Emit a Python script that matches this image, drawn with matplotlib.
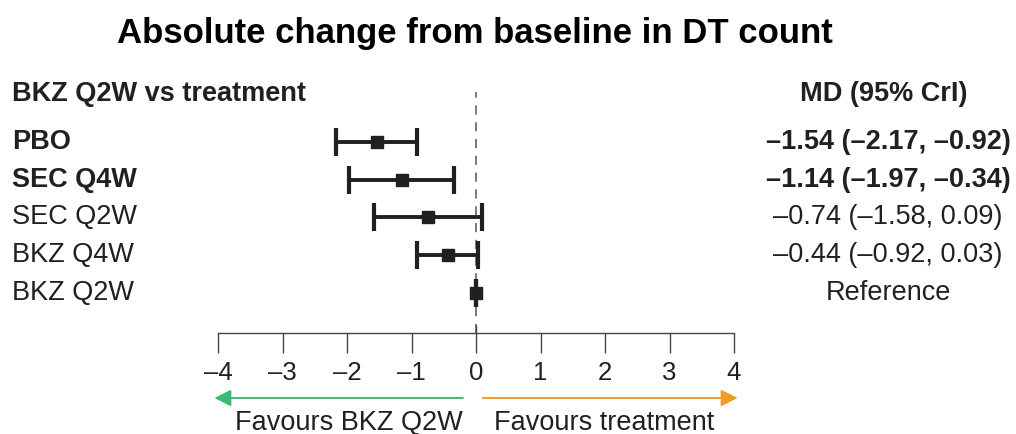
import matplotlib
matplotlib.use("Agg")
from matplotlib import pyplot as plt
from matplotlib import transforms
from matplotlib.ticker import FuncFormatter

plt.rcParams["font.family"] = ["Liberation Sans", "DejaVu Sans"]

# Data
treatments = ["PBO", "SEC Q4W", "SEC Q2W", "BKZ Q4W", "BKZ Q2W"]
md = [-1.54, -1.14, -0.74, -0.44, 0.0]
ci_low = [-2.17, -1.97, -1.58, -0.92, 0.0]
ci_high = [-0.92, -0.34, 0.09, 0.03, 0.0]
significant = [True, True, False, False, False]
md_text = ["\u20131.54 (\u20132.17, \u20130.92)", "\u20131.14 (\u20131.97, \u20130.34)",
           "\u20130.74 (\u20131.58, 0.09)", "\u20130.44 (\u20130.92, 0.03)", "Reference"]
x_ticks = [-4, -3, -2, -1, 0, 1, 2, 3, 4]

dark = "#231f20"
fs = 19.5
W, H = 1016, 434
fig = plt.figure(figsize=(W / 100, H / 100), dpi=100)

# axes: x from -4 (px 218) to 4 (px 734), bottom spine at px 333
ax = fig.add_axes([218 / W, (H - 333) / H, 516 / W, (333 - 90) / H])
ax.set_xlim(-4, 4)
ax.set_ylim(5.06, -1.377)

rows = list(range(len(treatments)))
xerr = [[m - l for m, l in zip(md, ci_low)], [h - m for m, h in zip(md, ci_high)]]
ax.errorbar(md, rows, xerr=xerr, fmt="s", color=dark, ms=8.5, lw=2.8,
            capsize=10, capthick=3.0, clip_on=False, zorder=3)

# dashed reference line and the longer zero tick
ax.axvline(0, ymin=0, ymax=0.99, color="#555555", lw=1.1, ls=(0, (6, 5)), zorder=1)
ax.plot([0, 0], [0, 0.03], transform=ax.get_xaxis_transform(), color="#444444", lw=1.0, clip_on=False)

for s in ["left", "right", "top"]:
    ax.spines[s].set_visible(False)
ax.spines["bottom"].set_color("#444444")
ax.spines["bottom"].set_linewidth(1.0)
ax.set_yticks([])
ax.set_xticks(x_ticks)
ax.xaxis.set_major_formatter(FuncFormatter(lambda v, p: f"{v:.0f}".replace("-", "\u2013")))
ax.tick_params(axis="x", length=14.5, width=1.0, color="#444444", labelsize=18.5,
               labelcolor=dark, pad=6)

# row labels and MD text
trans_left = transforms.blended_transform_factory(fig.transFigure, ax.transData)
for i, (name, txt, sig) in enumerate(zip(treatments, md_text, significant)):
    w = "bold" if sig else "normal"
    ax.text(12 / W, i, name, transform=trans_left, ha="left", va="center",
            fontsize=fs, fontweight=w, color=dark)
    ax.text(888 / W, i, txt, transform=trans_left, ha="center", va="center",
            fontsize=fs, fontweight=w, color=dark)

ax.text(12 / W, -1.27, "BKZ Q2W vs treatment", transform=trans_left, ha="left",
        va="center", fontsize=fs, fontweight="bold", color=dark)
ax.text(884 / W, -1.27, "MD (95% CrI)", transform=trans_left, ha="center",
        va="center", fontsize=fs, fontweight="bold", color=dark)

fig.text(475 / W, 1 - 33 / H, "Absolute change from baseline in DT count", ha="center",
         va="center", fontsize=25, fontweight="bold", color="black")

# favour arrows
trans_bot = transforms.blended_transform_factory(ax.transData, fig.transFigure)
ya = 1 - 398 / H
ax.annotate("", xy=(-4.1, ya), xytext=(-0.16, ya), xycoords=trans_bot, textcoords=trans_bot,
            arrowprops=dict(arrowstyle="-|>,head_length=1.0,head_width=0.5",
                            color="#3dba78", lw=1.4), annotation_clip=False)
ax.annotate("", xy=(4.1, ya), xytext=(0.06, ya), xycoords=trans_bot, textcoords=trans_bot,
            arrowprops=dict(arrowstyle="-|>,head_length=1.0,head_width=0.5",
                            color="#f59b25", lw=1.4), annotation_clip=False)
ax.text(-1.97, 1 - 423 / H, "Favours BKZ Q2W", transform=trans_bot, ha="center",
        va="center", fontsize=fs, color=dark)
ax.text(1.98, 1 - 423 / H, "Favours treatment", transform=trans_bot, ha="center",
        va="center", fontsize=fs, color=dark)

fig.savefig("out.png", dpi=100)
